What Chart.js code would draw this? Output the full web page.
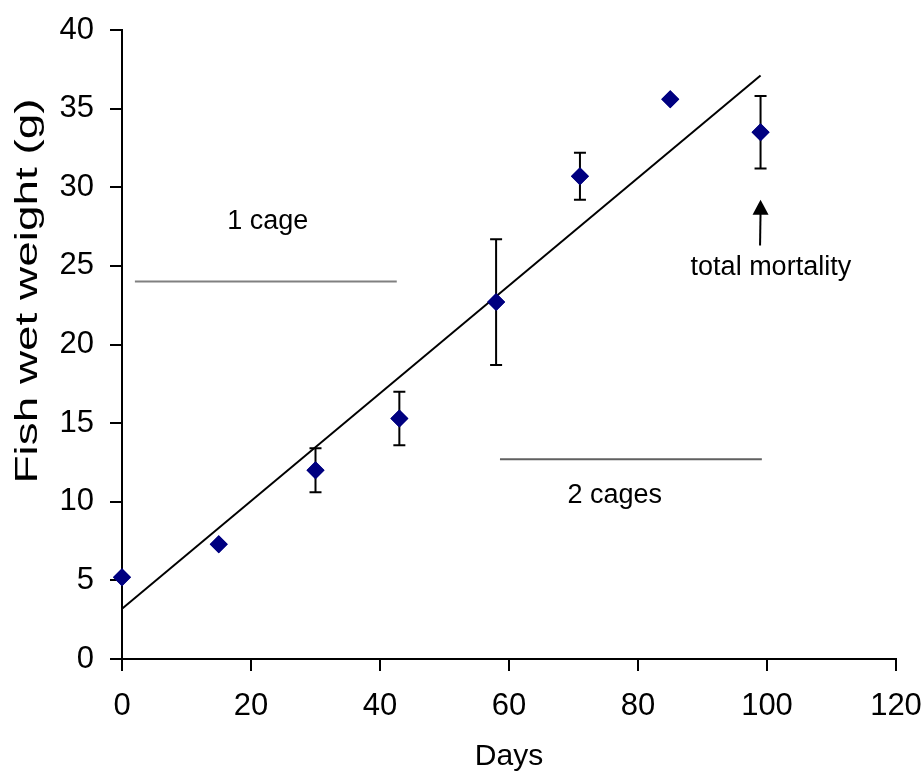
<!DOCTYPE html>
<html>
<head>
<meta charset="utf-8">
<script src="https://cdn.jsdelivr.net/npm/chart.js@4/dist/chart.umd.min.js"></script>
<style>
  html, body { margin: 0; padding: 0; background: #fff; }
  #wrap { width: 924px; height: 776px; }
</style>
</head>
<body>
<div id="wrap"><canvas id="fishChart" width="924" height="776"></canvas></div>
<script>
// measured days and mean fish weight
const days = [0, 15, 30, 43, 58, 71, 85, 99];
const weight = [5.2, 7.3, 12.0, 15.3, 22.7, 30.7, 35.6, 33.5];
const errLow = [null, null, 10.6, 13.6, 18.7, 29.2, null, 31.2];
const errHigh = [null, null, 13.4, 17.0, 26.7, 32.2, null, 35.8];

// linear trend line end points
const trendX = [0, 99];
const trendY = [3.2, 37.1];

// cage period markers
const oneCageX = [2, 42.6];
const oneCageY = [24, 24];
const twoCageX = [58.6, 99.2];
const twoCageY = [12.7, 12.7];

// text notes [label, x, y]
const notes = [
  ['1 cage', 22.6, 27.85],
  ['2 cages', 76.4, 10.4],
  ['total mortality', 100.6, 24.9]
];
// arrow: x, from y, to y
const arrow = [99, 26.3, 29.2];

const xTicks = [0, 20, 40, 60, 80, 100, 120];
const yTicks = [0, 5, 10, 15, 20, 25, 30, 35, 40];

const xTitle = 'Days';
const yTitle = 'Fish wet weight (g)';

const FAMILY = '"Liberation Sans", Arial, sans-serif';

function pts(xs, ys) {
  return xs.map((x, i) => ({ x: x, y: ys[i] }));
}

const extras = {
  id: 'extras',
  afterDatasetsDraw(chart) {
    const ctx = chart.ctx;
    const xs = chart.scales.x, ys = chart.scales.y;
    ctx.save();
    // error bars
    ctx.strokeStyle = '#000';
    ctx.lineWidth = 2;
    days.forEach((d, i) => {
      if (errLow[i] == null) return;
      const px = xs.getPixelForValue(d);
      const top = ys.getPixelForValue(errHigh[i]);
      const bot = ys.getPixelForValue(errLow[i]);
      ctx.beginPath();
      ctx.moveTo(px, top); ctx.lineTo(px, bot);
      ctx.moveTo(px - 6, top); ctx.lineTo(px + 6, top);
      ctx.moveTo(px - 6, bot); ctx.lineTo(px + 6, bot);
      ctx.stroke();
    });
    // redraw diamonds on top of error bars
    ctx.save();
    chart.getDatasetMeta(3).data.forEach(el => el.draw(ctx));
    ctx.restore();
    // arrow
    ctx.strokeStyle = '#000';
    ctx.fillStyle = '#000';
    ctx.lineWidth = 2;
    const ax = xs.getPixelForValue(arrow[0]);
    const a0 = ys.getPixelForValue(arrow[1]);
    const a1 = ys.getPixelForValue(arrow[2]);
    ctx.beginPath();
    ctx.moveTo(ax - 0.5, a0); ctx.lineTo(ax, a1 + 12);
    ctx.stroke();
    ctx.beginPath();
    ctx.moveTo(ax, a1);
    ctx.lineTo(ax - 8, a1 + 15);
    ctx.lineTo(ax + 8, a1 + 15);
    ctx.closePath();
    ctx.fill();
    // notes
    ctx.font = '27px ' + FAMILY;
    ctx.textAlign = 'center';
    ctx.textBaseline = 'middle';
    notes.forEach(n => {
      ctx.fillText(n[0], xs.getPixelForValue(n[1]), ys.getPixelForValue(n[2]));
    });
    // axis titles
    ctx.font = '30px ' + FAMILY;
    ctx.fillText(xTitle, (xs.left + xs.right) / 2, 757);
    ctx.translate(28, 291);
    ctx.rotate(-Math.PI / 2);
    ctx.font = '31px ' + FAMILY;
    const w = ctx.measureText(yTitle).width;
    ctx.scale(385 / w, 1);
    ctx.fillText(yTitle, 0, 0);
    ctx.restore();
  }
};

const tickFont = { family: FAMILY, size: 31 };

new Chart(document.getElementById('fishChart').getContext('2d'), {
  type: 'scatter',
  data: {
    datasets: [
      {
        label: 'trend',
        data: pts(trendX, trendY),
        showLine: true,
        borderColor: '#000',
        borderWidth: 2,
        pointRadius: 0
      },
      {
        label: '1 cage',
        data: pts(oneCageX, oneCageY),
        showLine: true,
        borderColor: '#808080',
        borderWidth: 2,
        pointRadius: 0
      },
      {
        label: '2 cages',
        data: pts(twoCageX, twoCageY),
        showLine: true,
        borderColor: '#606060',
        borderWidth: 2,
        pointRadius: 0
      },
      {
        label: 'weight',
        data: pts(days, weight),
        pointStyle: 'rectRot',
        pointRadius: 9,
        pointHoverRadius: 9,
        backgroundColor: '#000080',
        borderColor: '#000080',
        borderWidth: 0,
        clip: false
      }
    ]
  },
  plugins: [extras],
  options: {
    responsive: false,
    animation: false,
    layout: { padding: { top: 30, right: 28, left: 0, bottom: 0 } },
    plugins: {
      legend: { display: false },
      tooltip: { enabled: false }
    },
    scales: {
      x: {
        type: 'linear',
        min: 0, max: 120,
        afterBuildTicks: s => { s.ticks = xTicks.map(v => ({ value: v })); },
        afterFit: s => { s.height = 117; s.paddingLeft = 0; s.paddingRight = 0; },
        grid: { display: true, drawOnChartArea: false, color: '#000', lineWidth: 2, tickLength: 12 },
        border: { color: '#000', width: 2 },
        ticks: { color: '#000', font: tickFont, padding: 17, maxRotation: 0 }
      },
      y: {
        min: 0, max: 40,
        afterBuildTicks: s => { s.ticks = yTicks.map(v => ({ value: v })); },
        afterFit: s => { s.width = 122; s.paddingTop = 0; s.paddingBottom = 0; },
        grid: { display: true, drawOnChartArea: false, color: '#000', lineWidth: 2, tickLength: 12 },
        border: { color: '#000', width: 2 },
        ticks: { color: '#000', font: tickFont, padding: 16 }
      }
    }
  }
});
</script>
</body>
</html>
